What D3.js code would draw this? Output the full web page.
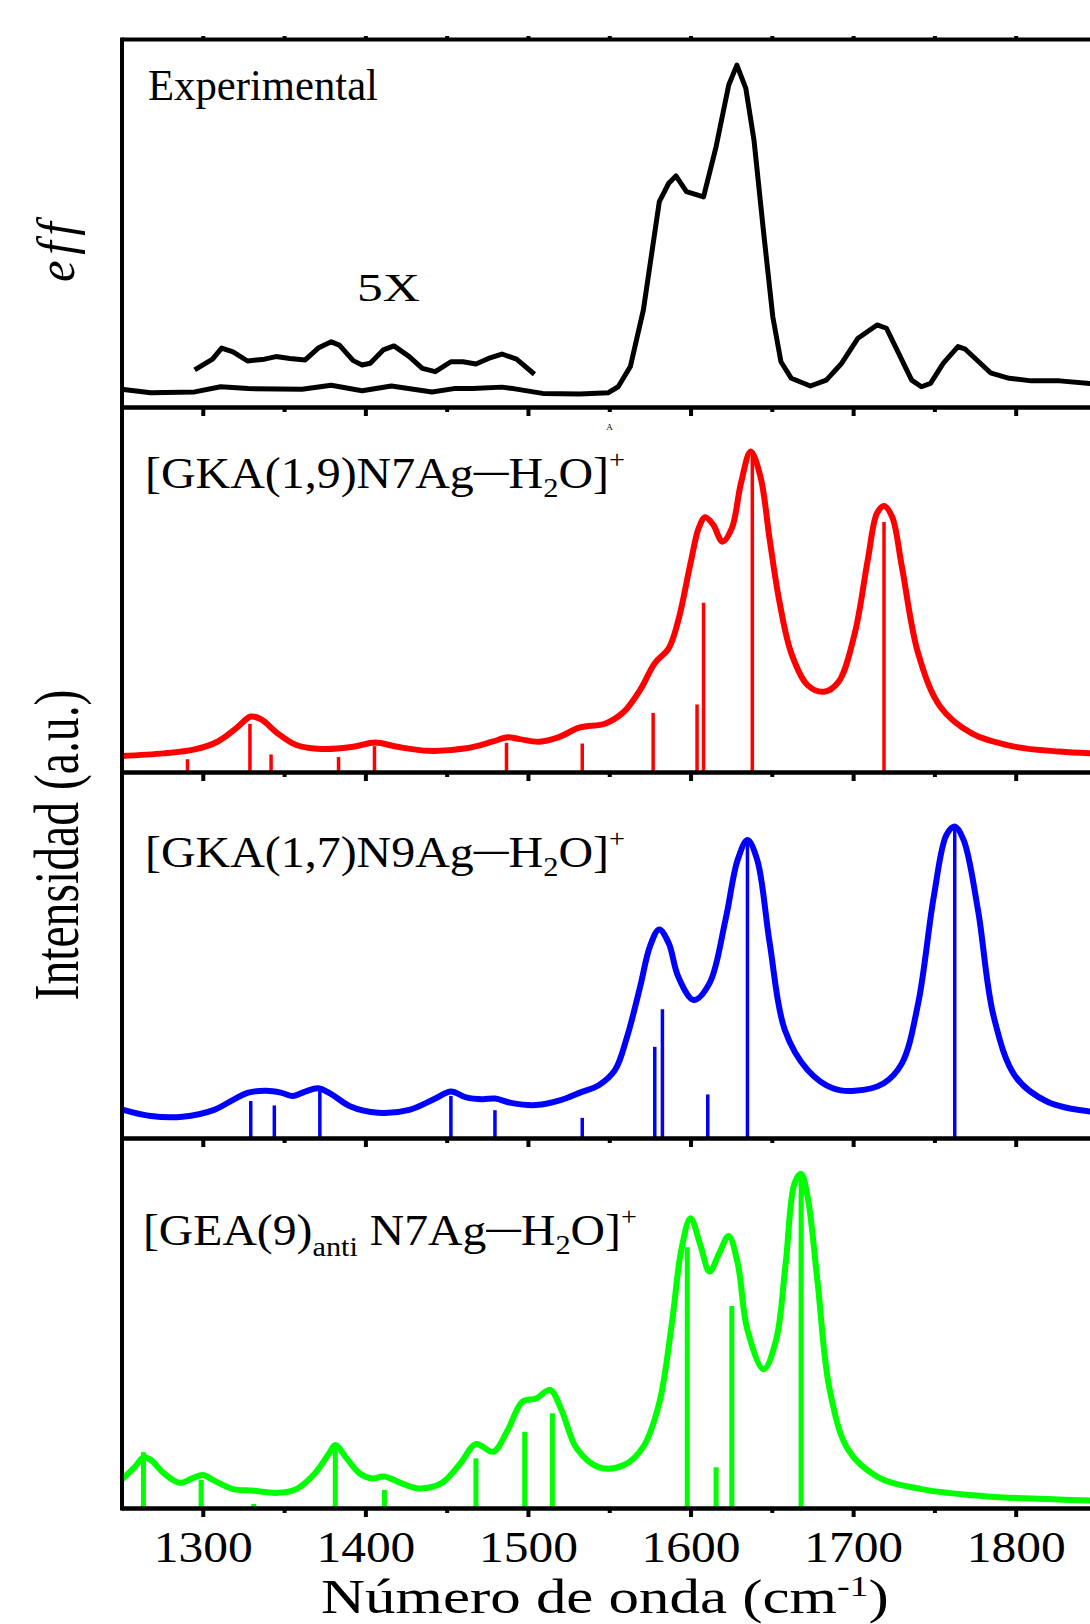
<!DOCTYPE html>
<html>
<head>
<meta charset="utf-8">
<script src="https://cdn.jsdelivr.net/npm/d3@7"></script>
<style>
  body { margin: 0; background: #fff; }
  text { font-family: "Liberation Serif", "Times New Roman", serif; fill: #000; }
</style>
</head>
<body>
<svg id="chart" width="1090" height="1624"></svg>
<script>
// ---- data ----
const expWavenumber = [1250,1268,1295,1311,1328,1361,1379,1398,1416,1441,1454.5,1466,1484,1491,1509,1532,1549.5,1555.5,1563,1571,1580.8,1586.6,1591,1597.5,1608,1615.7,1623.5,1628.5,1634,1639,1645,1650.6,1655.6,1662,1673.7,1683.5,1693,1703,1714.7,1720.5,1726,1736,1742,1747.6,1755.5,1764.5,1769,1784.5,1796,1809.6,1827,1846];
const expIntensity  = [4.8,3.9,4.1,5.5,5.0,4.8,5.9,4.4,5.7,4.1,5.0,5.0,5.4,5.0,3.7,3.5,3.9,5.5,11.0,26.4,55.8,60.8,62.8,58.5,57.1,70.7,87.5,92.9,86.6,72.6,47.2,24.5,12.3,7.8,5.7,7.3,11.9,18.7,22.3,21.4,16.4,7.3,5.5,6.4,11.9,16.4,15.7,9.3,7.8,7.1,7.1,6.4];

const exp5xWavenumber = [1295,1306,1311.6,1318.6,1327.5,1338,1345,1353.6,1363,1371,1379,1384,1392.5,1398,1403,1411,1417.6,1427,1435,1443,1452.6,1460,1468,1475.7,1484,1493,1504];
const exp5xIntensity  = [10.1,13.0,16.0,15.0,12.5,13.0,13.7,13.2,12.8,16.0,17.7,16.8,12.6,11.4,11.9,15.5,16.6,13.7,10.5,9.6,12.3,12.3,11.7,13.2,14.4,13.0,8.9];

const gka19Wavenumber = [1250,1276,1295,1309,1320.6,1329.5,1336,1346,1357.5,1373,1392.5,1406,1419.6,1439,1462,1478,1487.6,1495,1507,1518.6,1532,1547.7,1559,1569,1578,1586.6,1592.5,1600,1605,1609,1614,1619.6,1625.4,1631,1637,1643,1648.7,1654.5,1662,1672,1682,1691,1701,1709,1714.7,1719,1724,1730,1740,1753.6,1773,1800,1827,1846];
const gka19Intensity  = [4.4,5.1,6.2,8.3,12.0,15.2,14.4,10.6,7.4,6.3,6.9,8.1,6.9,5.8,6.5,8.3,9.5,9.0,8.3,9.5,12.2,13.3,16.5,22.5,29.8,33.9,41.6,57.2,66.8,69.8,67.7,63.1,66.8,79.1,87.8,80.9,63.6,47.1,32.5,23.8,22.0,24.7,38.0,58.1,70.9,72.9,69.9,56.2,32.5,17.9,10.6,6.9,5.6,5.1];
const gka19StickWavenumber = [1290.6,1329,1342,1383.5,1405.6,1486.8,1533.4,1577,1604,1608,1638,1719];
const gka19StickIntensity  = [3.5,13.2,4.8,4.1,7.1,8.0,7.8,16.2,18.5,46.4,87.4,68.5];

const gka17Wavenumber = [1250,1268,1287.5,1307,1318.6,1328,1339,1348,1355.5,1363,1371,1379,1390.5,1408,1427,1443,1452.6,1462,1472,1479.7,1489.5,1505,1520.6,1532,1543.8,1553.6,1561,1569,1575,1580.7,1586.6,1592.4,1602,1611.7,1621.5,1629,1635,1641,1648.7,1658,1672,1687.5,1701,1718.6,1730,1740,1749.6,1757.4,1762.5,1768,1776.8,1786.5,1800,1819.5,1846];
const gka17Intensity  = [7.8,6.0,5.8,7.7,10.4,12.4,12.9,12.4,11.5,12.7,13.6,12.0,8.7,6.9,7.7,10.8,12.7,11.1,10.6,10.8,9.6,9.0,10.4,12.4,14.5,18.6,27.7,41.3,52.3,57.0,53.2,44.1,37.7,42.3,59.6,76.0,81.4,76.0,53.2,29.5,18.6,13.6,12.9,14.9,20.4,36.8,65.9,82.8,85.1,81.4,62.3,33.1,16.7,9.9,7.2];
const gka17StickWavenumber = [1329.5,1344,1372,1452.6,1479.7,1533.4,1578,1582.7,1610.6,1635,1762.5];
const gka17StickIntensity  = [10.1,8.9,13.3,11.5,7.6,5.5,24.9,35.2,11.9,81.1,84.7];

const gea9Wavenumber = [1250,1258.4,1263.5,1268,1276,1285.7,1293.4,1300,1307,1318.6,1330,1346,1357.5,1369,1377.7,1381.5,1388.5,1396.3,1404,1411.7,1421.6,1433,1446.8,1458.5,1468,1478.6,1487.6,1496.5,1505,1513.6,1520.6,1530,1543.8,1559,1571,1580.7,1588.5,1594.3,1600,1606,1611.7,1617.6,1623.4,1629,1635,1645,1652.6,1658.5,1664,1668,1672,1678,1685.6,1697,1714.7,1741.9,1780.8,1819.5,1846];
const gea9Intensity  = [7.6,11.2,13.7,13.0,9.4,6.8,8.0,8.9,7.4,5.1,4.7,4.1,5.1,9.4,14.8,17.0,13.4,9.4,8.0,8.5,6.8,5.3,6.7,12.1,17.3,15.2,21.1,28.7,29.6,31.9,26.5,16.1,11.0,11.6,16.6,28.3,49.9,69.7,78.3,71.1,63.9,68.8,73.5,66.1,48.1,37.5,45.4,66.1,87.8,90.3,84.1,61.6,31.9,15.7,8.5,5.1,3.2,2.4,2.0];
const gea9StickWavenumber = [1263.5,1299,1331.4,1381.5,1411.7,1468,1498,1515,1598,1615.7,1625.4,1668];
const gea9StickIntensity  = [15.1,7.6,1.1,17.3,4.9,13.4,20.6,25.6,70.5,11.0,54.6,90.0];

const majorTicks = [1300,1400,1500,1600,1700,1800];
const minorTicks = [1350,1450,1550,1650,1750];
const tickLabels = ["1300","1400","1500","1600","1700","1800"];

// ---- layout ----
const svg = d3.select("#chart");
const x = d3.scaleLinear().domain([1250, 1850]).range([121.5, 1097]);
const edges = [39, 407, 772, 1138, 1508];
const yPanel = d3.range(4).map(i => d3.scaleLinear().domain([0, 100]).range([edges[i + 1], edges[i]]));

function curve(y, wn, val, color, width, crv) {
  const gen = d3.line().x(d => x(d[0])).y(d => y(d[1])).curve(crv);
  svg.append("path").attr("d", gen(d3.zip(wn, val)))
    .attr("fill", "none").attr("stroke", color).attr("stroke-width", width)
    .attr("stroke-linejoin", "round");
}
function sticks(y, wn, val, color, width) {
  svg.append("g").selectAll("line").data(d3.zip(wn, val)).join("line")
    .attr("x1", d => x(d[0])).attr("x2", d => x(d[0]))
    .attr("y1", y(0)).attr("y2", d => y(d[1]))
    .attr("stroke", color).attr("stroke-width", width);
}

// experimental
curve(yPanel[0], expWavenumber, expIntensity, "#000", 5, d3.curveLinear);
curve(yPanel[0], exp5xWavenumber, exp5xIntensity, "#000", 5, d3.curveLinear);
// computed spectra
const smooth = d3.curveCatmullRom.alpha(0.5);
sticks(yPanel[1], gka19StickWavenumber, gka19StickIntensity, "#ff0000", 3.5);
curve(yPanel[1], gka19Wavenumber, gka19Intensity, "#ff0000", 6, smooth);
sticks(yPanel[2], gka17StickWavenumber, gka17StickIntensity, "#0000ff", 3.5);
curve(yPanel[2], gka17Wavenumber, gka17Intensity, "#0000ff", 6, smooth);
sticks(yPanel[3], gea9StickWavenumber, gea9StickIntensity, "#00ff00", 5);
curve(yPanel[3], gea9Wavenumber, gea9Intensity, "#00ff00", 6, smooth);

// ---- axes / frame ----
function styleAxis(g) {
  g.selectAll("path.domain").attr("stroke", "#000").attr("stroke-width", 4);
  g.selectAll(".tick line").attr("stroke", "#000").attr("stroke-width", 4);
}
const topAxis = svg.append("g").attr("transform", `translate(0,${edges[0]})`)
  .call(d3.axisTop(x).tickValues(majorTicks.concat(minorTicks)).tickSize(3).tickSizeOuter(0).tickFormat(""));
styleAxis(topAxis);

for (let i = 1; i <= 4; i++) {
  const last = i === 4;
  const gMinor = svg.append("g").attr("transform", `translate(0,${edges[i]})`)
    .call(d3.axisBottom(x).tickValues(minorTicks).tickSize(5).tickSizeOuter(0).tickFormat(""));
  styleAxis(gMinor);
  const gMajor = svg.append("g").attr("transform", `translate(0,${edges[i]})`)
    .call(d3.axisBottom(x).tickValues(majorTicks).tickSize(9).tickSizeOuter(0)
      .tickFormat(last ? (d, j) => tickLabels[j] : ""));
  styleAxis(gMajor);
  if (last) {
    gMajor.selectAll(".tick text")
      .attr("font-family", "Liberation Serif, serif").attr("font-size", 45)
      .attr("fill", "#000").attr("y", 54).attr("dy", null)
      .each(function () {
        const w = this.getBBox().width;
        d3.select(this).attr("transform", `scale(${99 / w},1)`);
      });
  }
}
const yFull = d3.scaleLinear().domain([0, 1]).range([edges[4] + 2, edges[0] - 2]);
const leftAxis = svg.append("g").attr("transform", `translate(${x(1250)},0)`)
  .call(d3.axisLeft(yFull).tickValues([]).tickSizeOuter(0));
styleAxis(leftAxis);

// ---- text ----
function label(x0, y0, parts, size, width, opts = {}) {
  const g = svg.append("g").attr("transform", `translate(${x0},${y0})` + (opts.rotate ? ` rotate(${opts.rotate})` : ""));
  const t = g.append("text").attr("font-size", size).attr("text-anchor", opts.anchor || "start");
  if (opts.italic) t.attr("font-style", "italic");
  if (opts.spacing) t.attr("letter-spacing", opts.spacing);
  parts.forEach(p => {
    const s = t.append("tspan").text(p.t);
    if (p.dy) s.attr("dy", p.dy);
    if (p.s) s.attr("font-size", p.s);
    if (p.b) s.attr("font-weight", "bold");
  });
  const w = t.node().getBBox().width;
  t.attr("transform", `scale(${width / w},1)`);
}

// bond dash raised to mid-height, then back to the baseline for "H"
const bond = [{t: "—", b: true, s: 32, dy: -7}, {t: "H", dy: 7}];
label(148, 100, [{t: "Experimental"}], 44, 230);
label(357, 301, [{t: "5X"}], 39, 63);

label(145, 488, [{t: "[GKA(1,9)N7Ag"}, ...bond, {t: "2", dy: 9, s: 28},
  {t: "O]", dy: -9}, {t: "+", dy: -20, s: 26}], 44, 480);
label(145, 867, [{t: "[GKA(1,7)N9Ag"}, ...bond, {t: "2", dy: 9, s: 28},
  {t: "O]", dy: -9}, {t: "+", dy: -20, s: 26}], 44, 480);
label(143, 1245, [{t: "[GEA(9)"}, {t: "anti", dy: 11, s: 28}, {t: " N7Ag", dy: -11}, ...bond,
  {t: "2", dy: 9, s: 28}, {t: "O]", dy: -9}, {t: "+", dy: -20, s: 26}], 44, 494);

label(609.5, 430, [{t: "A"}], 9, 7, {anchor: "middle"});
label(609.5, 416, [{t: "‾"}], 9, 6, {anchor: "middle"});

label(78, 845, [{t: "Intensidad (a.u.)"}], 63, 311, {anchor: "middle", rotate: -90});
label(74, 282, [{t: "eff"}], 52, 66, {rotate: -90, italic: true, spacing: 6});

label(605, 1613, [{t: "Número de onda (cm"}, {t: "-1", dy: -17, s: 30}, {t: ")", dy: 17}], 48, 568, {anchor: "middle"});
</script>
</body>
</html>
